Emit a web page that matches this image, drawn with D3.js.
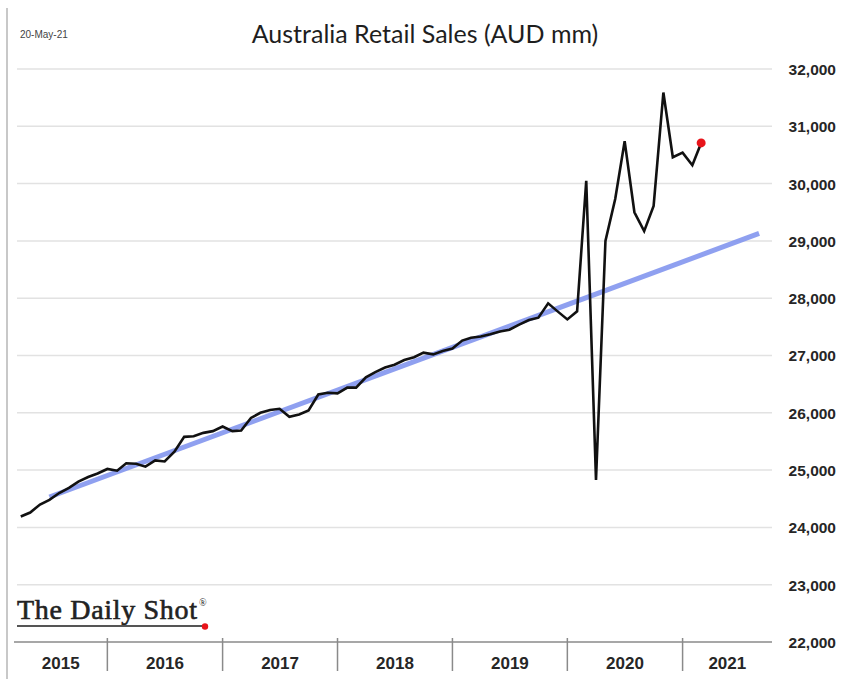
<!DOCTYPE html>
<html>
<head>
<meta charset="utf-8">
<script src="https://cdn.jsdelivr.net/npm/d3@7"></script>
<style>
  body { margin: 0; background: #fff; }
</style>
</head>
<body>
<div id="chart"></div>
<script>
// monthly retail sales, AUD mm, Apr 2015 .. Mar 2021
var startMonth = "2015-04";
var salesValues = [
  24190, 24260, 24400, 24480, 24600, 24690, 24800, 24880, 24940,
  25020, 24990, 25120, 25110, 25060, 25170, 25150, 25320, 25580, 25590, 25650, 25680,
  25760, 25680, 25690, 25910, 26000, 26050, 26070, 25930, 25970, 26040, 26320, 26350,
  26340, 26440, 26440, 26620, 26710, 26790, 26840, 26920, 26970, 27050, 27020, 27080,
  27120, 27260, 27310, 27330, 27370, 27420, 27450, 27540, 27620, 27660, 27910, 27770,
  27630, 27770, 30050, 24830, 29000, 29730, 30740, 29500, 29170, 29610, 31590, 30460,
  30540, 30320, 30710
];
// linear trend (start / end)
var trendMonths = ["2015-07", "2021-09"];
var trendValues = [24530, 29130];

var yTicks = [22000, 23000, 24000, 25000, 26000, 27000, 28000, 29000, 30000, 31000, 32000];
var yearLabels = ["2015", "2016", "2017", "2018", "2019", "2020", "2021"];

var parseMonth = d3.timeParse("%Y-%m");
var start = parseMonth(startMonth);
var sales = salesValues.map(function(v, i) {
  return { date: d3.timeMonth.offset(start, i), value: v };
});
var trend = trendMonths.map(function(m, i) {
  return { date: parseMonth(m), value: trendValues[i] };
});

var width = 846, height = 679;
var plotLeft = 17, plotRight = 772, plotTop = 69, plotBottom = 642;

var svg = d3.select("#chart")
    .append("svg")
    .attr("width", width)
    .attr("height", height)
    .style("font-family", "Lato, 'Open Sans', sans-serif");

var x = d3.scaleTime()
    .domain([new Date(2015, 2, 20), new Date(2021, 9, 12)])
    .range([plotLeft, plotRight]);

var y = d3.scaleLinear()
    .domain([22000, 32000])
    .range([plotBottom, plotTop]);

// left frame edge
svg.append("line")
    .attr("x1", 7).attr("x2", 7)
    .attr("y1", 8).attr("y2", height)
    .attr("stroke", "#c8c8c8")
    .attr("stroke-width", 2);

// title + date
svg.append("text")
    .attr("x", 425)
    .attr("y", 43)
    .attr("text-anchor", "middle")
    .attr("font-size", 25)
    .attr("fill", "#1e1e1e")
    .text("Australia Retail Sales (AUD mm)");

svg.append("text")
    .attr("x", 20)
    .attr("y", 38)
    .attr("font-size", 10)
    .attr("fill", "#444")
    .attr("font-family", "'Liberation Sans Narrow', 'Liberation Sans', sans-serif")
    .text("20-May-21");

// grid
svg.append("g")
    .selectAll("line")
    .data(yTicks.slice(1))
    .join("line")
    .attr("x1", plotLeft)
    .attr("x2", plotRight)
    .attr("y1", function(d) { return y(d); })
    .attr("y2", function(d) { return y(d); })
    .attr("stroke", "#e2e2e2")
    .attr("stroke-width", 1.5);

// y axis labels on right
var yAxis = d3.axisRight(y)
    .tickValues(yTicks)
    .tickSize(0)
    .tickFormat(d3.format(","));

svg.append("g")
    .attr("transform", "translate(836,0)")
    .call(yAxis)
    .call(function(g) { g.select(".domain").remove(); })
    .selectAll("text")
    .attr("x", 0)
    .attr("dy", "0.35em")
    .attr("text-anchor", "end")
    .attr("font-size", 15.5)
    .attr("font-weight", "bold")
    .attr("fill", "#262626")
    .attr("font-family", "'Liberation Sans', sans-serif");

// baseline axis
svg.append("line")
    .attr("x1", 14)
    .attr("x2", plotRight)
    .attr("y1", plotBottom)
    .attr("y2", plotBottom)
    .attr("stroke", "#8a8a8a")
    .attr("stroke-width", 1.5);

// year separators and labels
var yearStarts = yearLabels.map(function(yr) { return new Date(+yr, 0, 1); });

svg.append("g")
    .selectAll("line")
    .data(yearStarts.slice(1))
    .join("line")
    .attr("x1", function(d) { return x(d); })
    .attr("x2", function(d) { return x(d); })
    .attr("y1", plotBottom - 4)
    .attr("y2", 671)
    .attr("stroke", "#8a8a8a")
    .attr("stroke-width", 1.5);

svg.append("g")
    .selectAll("text")
    .data(yearLabels)
    .join("text")
    .attr("x", function(d) {
      var a = Math.max(14, x(new Date(+d, 0, 1)));
      var b = Math.min(plotRight, x(new Date(+d + 1, 0, 1)));
      return (a + b) / 2;
    })
    .attr("y", 669)
    .attr("text-anchor", "middle")
    .attr("font-size", 17)
    .attr("font-weight", "bold")
    .attr("fill", "#262626")
    .attr("font-family", "'Liberation Sans', sans-serif")
    .text(function(d) { return d; });

// trend line
var line = d3.line()
    .x(function(d) { return x(d.date); })
    .y(function(d) { return y(d.value); });

svg.append("path")
    .datum(trend)
    .attr("d", line)
    .attr("fill", "none")
    .attr("stroke", "#8396ee")
    .attr("stroke-width", 5)
    .attr("stroke-opacity", 0.9);

// sales line
svg.append("path")
    .datum(sales)
    .attr("d", line)
    .attr("fill", "none")
    .attr("stroke", "#111")
    .attr("stroke-width", 2.6)
    .attr("stroke-linejoin", "miter");

var last = sales[sales.length - 1];
svg.append("circle")
    .attr("cx", x(last.date))
    .attr("cy", y(last.value))
    .attr("r", 4.5)
    .attr("fill", "#e8141b");

// logo
var logo = svg.append("g");
logo.append("text")
    .attr("x", 17)
    .attr("y", 619)
    .attr("font-family", "'Liberation Serif', 'DejaVu Serif', serif")
    .attr("font-size", 28)
    .attr("fill", "#222")
    .attr("stroke", "#222")
    .attr("stroke-width", 0.6)
    .attr("textLength", 180)
    .text("The Daily Shot");
logo.append("text")
    .attr("x", 199)
    .attr("y", 606)
    .attr("font-family", "'Liberation Serif', serif")
    .attr("font-size", 10)
    .attr("fill", "#222")
    .text("®");
logo.append("line")
    .attr("x1", 17).attr("x2", 203)
    .attr("y1", 626).attr("y2", 626)
    .attr("stroke", "#555")
    .attr("stroke-width", 2);
logo.append("circle")
    .attr("cx", 205)
    .attr("cy", 626.5)
    .attr("r", 3.2)
    .attr("fill", "#e8141b");
</script>
</body>
</html>
